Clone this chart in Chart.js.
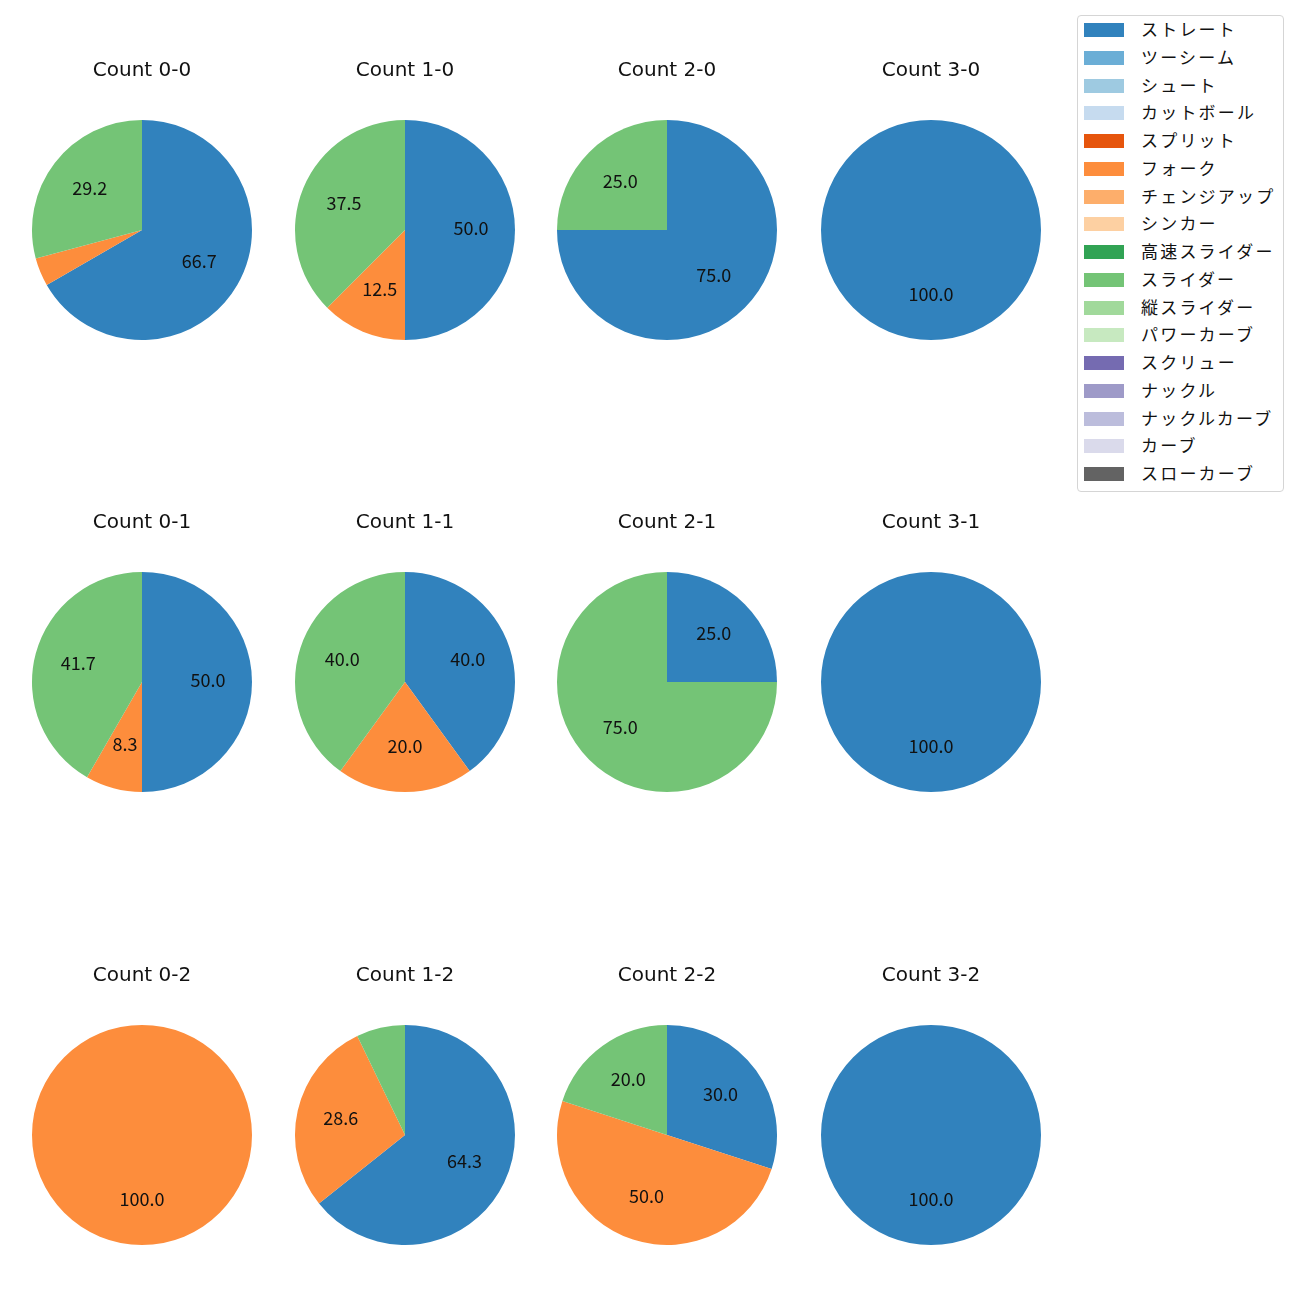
<!DOCTYPE html>
<html>
<head>
<meta charset="utf-8">
<script src="https://cdn.jsdelivr.net/npm/chart.js@4/dist/chart.umd.min.js"></script>
<style>
  html, body { margin: 0; padding: 0; background: #fff; }
  body { width: 1300px; height: 1300px; position: relative; overflow: hidden; }
  .cell { position: absolute; width: 240px; height: 400px; }
  #legend { position: absolute; left: 1077px; top: 15px; width: 207px; height: 477px;
    border: 1px solid #d5d5d5; border-radius: 4px; box-sizing: border-box;
    font-family: "Noto Sans CJK JP", "Noto Sans", sans-serif; font-size: 17px; color: #111; }
  .lg { position: absolute; left: 0; height: 20px; }
  .lg .sw { position: absolute; left: 6px; top: 3px; width: 40px; height: 14px; }
  .lg .tx { position: absolute; left: 63px; top: -3px; white-space: nowrap; line-height: 24px; letter-spacing: 2.2px; }
</style>
</head>
<body>
<div id="legend"></div>
<script>
// ---- data ----
const counts = ['0-0','1-0','2-0','3-0','0-1','1-1','2-1','3-1','0-2','1-2','2-2','3-2'];
const pitchTypes = ['ストレート','ツーシーム','シュート','カットボール','スプリット','フォーク','チェンジアップ','シンカー','高速スライダー','スライダー','縦スライダー','パワーカーブ','スクリュー','ナックル','ナックルカーブ','カーブ','スローカーブ'];
const pitchColors = ['#3182bd','#6baed6','#9ecae1','#c6dbef','#e6550d','#fd8d3c','#fdae6b','#fdd0a2','#31a354','#74c476','#a1d99b','#c7e9c0','#756bb1','#9e9ac8','#bcbddc','#dadaeb','#636363'];
// pitch counts per ball-strike count (order follows counts), read from the percentages
const straight = [16, 4, 3, 1, 6, 2, 1, 1, 0, 9, 3, 1];
const fork     = [ 1, 1, 0, 0, 1, 1, 0, 0, 1, 4, 5, 0];
const slider   = [ 7, 3, 1, 0, 5, 2, 3, 0, 0, 1, 2, 0];
const shownTypes = ['ストレート','フォーク','スライダー'];
const shownSeries = [straight, fork, slider];

// ---- layout ----
const colCenters = [141.5, 405, 667, 930.5];
const rowCenters = [229.5, 682, 1134.5];
const R = 110;

const titlePlugin = {
  id: 'subTitle',
  afterDraw(chart, args, opts) {
    const ctx = chart.ctx;
    ctx.save();
    ctx.font = '20px "DejaVu Sans", sans-serif';
    ctx.fillStyle = '#111';
    ctx.textAlign = 'center';
    ctx.textBaseline = 'middle';
    ctx.fillText(opts.text, chart.width / 2, 41);
    ctx.restore();
  }
};
const pctPlugin = {
  id: 'pctLabels',
  afterDatasetsDraw(chart) {
    const ctx = chart.ctx;
    const ds = chart.data.datasets[0];
    const total = ds.data.reduce((a, b) => a + b, 0);
    const meta = chart.getDatasetMeta(0);
    ctx.save();
    ctx.font = '18px "Noto Sans CJK JP", "Noto Sans", sans-serif';
    ctx.fillStyle = '#111';
    ctx.textAlign = 'center';
    ctx.textBaseline = 'middle';
    meta.data.forEach((arc, i) => {
      const v = ds.data[i];
      const pct = v / total * 100;
      if (pct < 8) return;
      const p = arc.getProps(['x','y','startAngle','endAngle','outerRadius'], true);
      const mid = (p.startAngle + p.endAngle) / 2;
      const r = p.outerRadius * 0.6;
      ctx.fillText(pct.toFixed(1), p.x + Math.cos(mid) * r, p.y + Math.sin(mid) * r - 2);
    });
    ctx.restore();
  }
};

counts.forEach((c, idx) => {
  const row = Math.floor(idx / 4), col = idx % 4;
  const div = document.createElement('div');
  div.className = 'cell';
  div.style.left = (colCenters[col] - 120) + 'px';
  div.style.top = (rowCenters[row] - 200) + 'px';
  const cv = document.createElement('canvas');
  cv.width = 240; cv.height = 400;
  div.appendChild(cv);
  document.body.appendChild(div);
  const vals = shownSeries.map(s => s[idx]);
  const cols = shownTypes.map(t => pitchColors[pitchTypes.indexOf(t)]);
  new Chart(cv, {
    type: 'pie',
    data: { labels: shownTypes, datasets: [{ data: vals, backgroundColor: cols, borderWidth: 0 }] },
    options: {
      responsive: false,
      animation: false,
      devicePixelRatio: 1,
      events: [],
      layout: { padding: { top: 200 - R, bottom: 200 - R, left: 120 - R, right: 120 - R } },
      plugins: { legend: { display: false }, tooltip: { enabled: false }, subTitle: { text: 'Count ' + c } }
    },
    plugins: [titlePlugin, pctPlugin]
  });
});

// ---- legend ----
const lg = document.getElementById('legend');
pitchTypes.forEach((t, i) => {
  const d = document.createElement('div');
  d.className = 'lg';
  d.style.top = (4 + i * 27.75) + 'px';
  d.innerHTML = '<div class="sw" style="background:' + pitchColors[i] + '"></div><div class="tx">' + t + '</div>';
  lg.appendChild(d);
});
</script>
</body>
</html>
